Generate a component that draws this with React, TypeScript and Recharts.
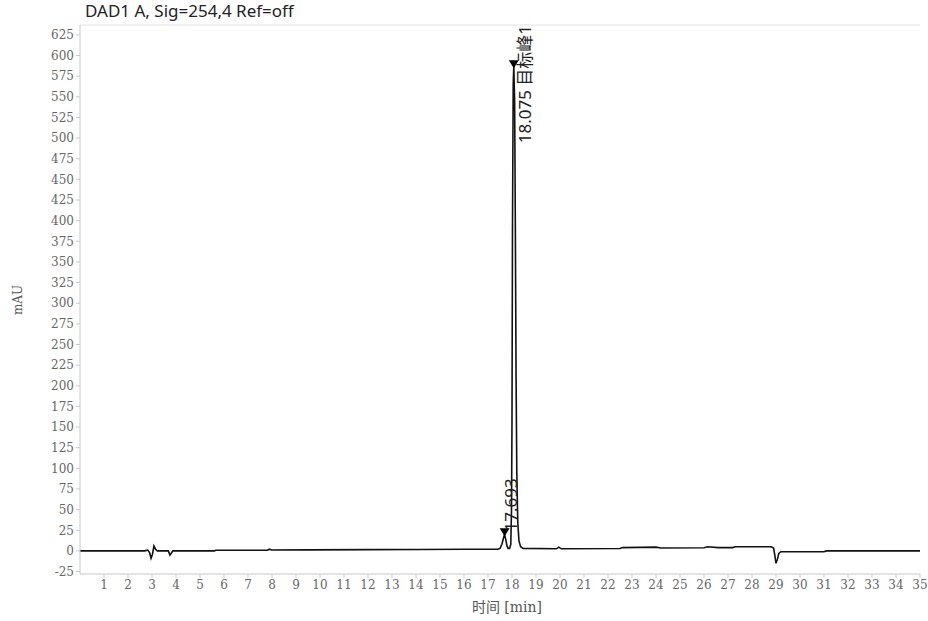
import React from 'react';
import { LineChart, Line, XAxis, YAxis, ReferenceDot, ReferenceLine } from 'recharts';

// retention time (min) and signal (mAU)
const timeMin = [
  0, 2.7, 2.82, 2.9, 2.96, 3.02, 3.08, 3.15, 3.22, 3.68, 3.75, 3.8, 3.87, 5.6, 5.65, 7.8, 7.9, 7.98,
  9.5, 12, 14.2, 16, 17.4, 17.5, 17.58, 17.64, 17.69, 17.74, 17.79, 17.84, 17.9, 17.95, 17.98, 18.0,
  18.02, 18.05, 18.075, 18.11, 18.14, 18.17, 18.2, 18.24, 18.29, 18.36, 18.46, 19.85, 19.95, 20.05, 22.5,
  22.6, 24.0, 24.2, 26.0, 26.15, 26.6, 27.2, 27.3, 28.8, 28.9, 28.95, 29.0, 29.06, 29.12, 29.2, 31.0,
  31.1, 35,
];
const signalMAU = [
  0, 0, 1, -2, -9, -4, 6, 2, 0, 0, -5, -3, 0, 0, 0.8, 0.8, 2, 1,
  1.2, 1.5, 1.7, 1.9, 2, 3, 8, 15, 20, 14, 6, 3, 3, 8, 50, 160,
  390, 565, 587, 545, 390, 210, 95, 35, 12, 5, 3, 2.5, 4.5, 2.5, 2.8,
  4, 4.5, 3.5, 3.8, 5, 4, 4, 5, 5, 3.5, -5, -15, -10, -3, -1, -1,
  0, 0,
];

const xTicks = Array.from({ length: 35 }, (_, i) => i + 1);
const yTicks = Array.from({ length: 27 }, (_, i) => -25 + i * 25);

const peaks = [
  { t: 18.075, v: 587, label: '18.075 目标峰1', dx: 11, dy: 77 },
  { t: 17.693, v: 20, label: '17.693', dx: 6, dy: -3 },
];

const data = timeMin.map((t, i) => ({ t, v: signalMAU[i] }));

const tickStyle = { fontFamily: '"DejaVu Serif", serif', fontSize: 12, fill: '#666' };

function PeakMark(props: any) {
  const { cx, cy, label, dx, dy } = props;
  return (
    <g>
      <path d={`M${cx - 5},${cy - 6} L${cx + 5},${cy - 6} L${cx},${cy + 2} Z`} fill="#000" />
      <text
        x={cx + dx}
        y={cy + dy}
        transform={`rotate(-90 ${cx + dx} ${cy + dy})`}
        textAnchor="start"
        dominantBaseline="central"
        fontFamily='"Noto Sans", "Noto Sans CJK SC", sans-serif'
        fontSize={17}
        fill="#222"
      >
        {label}
      </text>
    </g>
  );
}

export default function App() {
  return (
    <div style={{ position: 'absolute', left: 0, top: 0, width: 928, height: 621, background: '#fff' }}>
      <div
        style={{
          position: 'absolute',
          left: 85,
          top: 1,
          fontFamily: '"Noto Sans", sans-serif',
          fontSize: 17,
          color: '#222',
          lineHeight: '20px',
        }}
      >
        DAD1 A, Sig=254,4 Ref=off
      </div>
      <div
        style={{
          position: 'absolute',
          left: 18,
          top: 300,
          transform: 'translate(-50%, -50%) rotate(-90deg)',
          fontFamily: '"DejaVu Serif", serif',
          fontSize: 12,
          color: '#555',
        }}
      >
        mAU
      </div>
      <div
        style={{
          position: 'absolute',
          left: 507,
          top: 606,
          transform: 'translate(-50%, -50%)',
          fontFamily: '"DejaVu Serif", "Noto Sans CJK SC", serif',
          fontSize: 14,
          color: '#555',
          whiteSpace: 'nowrap',
        }}
      >
        时间 [min]
      </div>
      <LineChart width={928} height={621} data={data} margin={{ top: 25, right: 8, bottom: 17, left: 20 }}>
        <XAxis
          dataKey="t"
          type="number"
          domain={[0, 35]}
          ticks={xTicks}
          interval={0}
          tick={tickStyle}
          tickSize={4}
          stroke="#c8c8c8"
          allowDataOverflow
        />
        <YAxis
          type="number"
          domain={[-28, 637]}
          ticks={yTicks}
          interval={0}
          tick={tickStyle}
          tickSize={4}
          width={60}
          stroke="#c8c8c8"
          allowDataOverflow
        />
        <ReferenceLine y={637} stroke="#e2e2e2" />
        <Line
          dataKey="v"
          type="linear"
          stroke="#111"
          strokeWidth={1.6}
          dot={false}
          isAnimationActive={false}
        />
        {peaks.map((p) => (
          <ReferenceDot
            key={p.t}
            x={p.t}
            y={p.v}
            r={5}
            shape={(sp: any) => <PeakMark {...sp} label={p.label} dx={p.dx} dy={p.dy} />}
          />
        ))}
      </LineChart>
    </div>
  );
}
